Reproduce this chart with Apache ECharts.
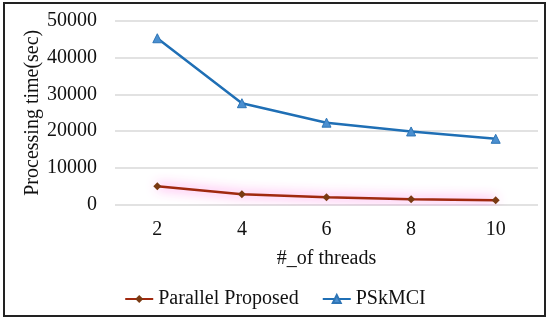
<!DOCTYPE html>
<html><head><meta charset="utf-8">
<script src="https://cdn.jsdelivr.net/npm/echarts@6/dist/echarts.min.js"></script>
<style>html,body{margin:0;padding:0;background:#fff}#c{width:550px;height:321px}</style>
</head><body><div id="c"></div>
<script>
const categories = ['2', '4', '6', '8', '10'];
const parallelProposed = [5000, 2800, 2000, 1450, 1150];
const pskmci = [45300, 27600, 22300, 19900, 17900];
const yTicks = { min: 0, max: 50000, interval: 10000 };

const font = 'Liberation Serif, Times New Roman, serif';
const fs = 20;
const chart = echarts.init(document.getElementById('c'), null, { renderer: 'canvas' });
chart.setOption({
  animation: false,
  backgroundColor: '#fff',
  graphic: [{
    type: 'rect', shape: { x: 4, y: 3, width: 541, height: 313 },
    style: { fill: 'none', stroke: '#222', lineWidth: 2 }, silent: true, z: 100
  }],
  grid: { left: 115, right: 12, top: 21, bottom: 116.5 },
  xAxis: {
    type: 'category', data: categories, boundaryGap: true,
    name: '#_of threads', nameLocation: 'middle', nameGap: 44,
    nameTextStyle: { fontFamily: font, fontSize: fs, color: '#111' },
    axisLine: { show: false }, axisTick: { show: false },
    axisLabel: { fontFamily: font, fontSize: fs, color: '#111', margin: 15 }
  },
  yAxis: {
    type: 'value', min: yTicks.min, max: yTicks.max, interval: yTicks.interval,
    name: 'Processing time(sec)', nameLocation: 'middle', nameGap: 72,
    nameMoveOverlap: false,
    nameTextStyle: { fontFamily: font, fontSize: fs, color: '#111' },
    axisLine: { show: false }, axisTick: { show: false },
    axisLabel: { fontFamily: font, fontSize: fs, color: '#111', margin: 18,
      formatter: v => String(v) },
    splitLine: { lineStyle: { color: '#d9d9d9', width: 1.5 } }
  },
  legend: {
    bottom: 7, left: 'center', itemGap: 23, itemWidth: 28, itemHeight: 10,
    textStyle: { fontFamily: font, fontSize: fs, color: '#111' },
    data: ['Parallel Proposed', 'PSkMCI']
  },
  series: [
    {
      name: 'Parallel Proposed', type: 'line', data: parallelProposed,
      symbol: 'diamond', symbolSize: 8,
      itemStyle: { color: '#7A3A12' },
      lineStyle: { color: '#A0290F', width: 2.5, shadowColor: 'rgba(255,40,210,0.85)', shadowBlur: 12 }
    },
    {
      name: 'PSkMCI', type: 'line', data: pskmci,
      symbol: 'triangle', symbolSize: 9,
      itemStyle: { color: '#4A8FD0', borderColor: '#2E75B6', borderWidth: 1 },
      lineStyle: { color: '#1F6FB5', width: 2.5 }
    }
  ]
});
</script></body></html>
